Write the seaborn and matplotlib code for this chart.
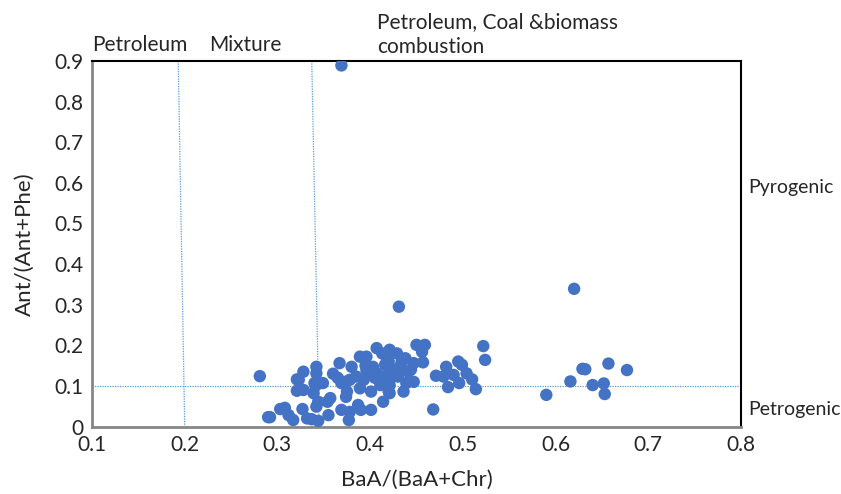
import numpy as np
import pandas as pd
import matplotlib
matplotlib.use("Agg")
import matplotlib.pyplot as plt
import seaborn as sns

# BaA/(BaA+Chr) vs Ant/(Ant+Phe)
baa_ratio = [
    0.369, 0.431, 0.620, 0.281, 0.522, 0.524, 0.468, 0.590, 0.616, 0.629,
    0.632, 0.640, 0.652, 0.653, 0.657, 0.677, 0.450, 0.459, 0.456, 0.457,
    0.471, 0.482, 0.484, 0.495, 0.499, 0.496, 0.504, 0.510, 0.514, 0.490,
    0.479, 0.447, 0.436, 0.439, 0.421, 0.421, 0.429, 0.438, 0.432, 0.425,
    0.441, 0.447, 0.430, 0.421, 0.292, 0.303, 0.308, 0.312, 0.317, 0.327,
    0.332, 0.337, 0.344, 0.342, 0.344, 0.355, 0.354, 0.357, 0.369, 0.377,
    0.378, 0.374, 0.387, 0.390, 0.401, 0.414, 0.321, 0.328, 0.321, 0.328,
    0.342, 0.342, 0.340, 0.349, 0.339, 0.367, 0.380, 0.389, 0.396, 0.407,
    0.413, 0.420, 0.369, 0.378, 0.385, 0.393, 0.400, 0.407, 0.396, 0.401,
    0.420, 0.375, 0.389, 0.411, 0.421, 0.414, 0.421, 0.403, 0.416, 0.323,
    0.290, 0.341, 0.360, 0.365, 0.372, 0.395, 0.405, 0.418, 0.434, 0.444,
]
ant_ratio = [
    0.889, 0.295, 0.339, 0.124, 0.198, 0.164, 0.042, 0.078, 0.111, 0.142,
    0.141, 0.102, 0.106, 0.080, 0.155, 0.139, 0.201, 0.201, 0.184, 0.158,
    0.125, 0.147, 0.097, 0.160, 0.152, 0.107, 0.131, 0.116, 0.092, 0.127,
    0.123, 0.110, 0.086, 0.107, 0.082, 0.102, 0.180, 0.168, 0.147, 0.139,
    0.135, 0.156, 0.123, 0.189, 0.023, 0.043, 0.046, 0.028, 0.016, 0.043,
    0.020, 0.018, 0.014, 0.049, 0.061, 0.028, 0.061, 0.070, 0.041, 0.016,
    0.036, 0.073, 0.053, 0.041, 0.041, 0.061, 0.088, 0.090, 0.116, 0.135,
    0.147, 0.131, 0.107, 0.107, 0.082, 0.156, 0.147, 0.172, 0.172, 0.193,
    0.180, 0.160, 0.107, 0.115, 0.123, 0.115, 0.131, 0.131, 0.139, 0.086,
    0.086, 0.086, 0.094, 0.102, 0.115, 0.123, 0.139, 0.147, 0.152, 0.115,
    0.023, 0.100, 0.130, 0.120, 0.110, 0.150, 0.120, 0.170, 0.160, 0.140,
]

x_ticks = [0.1, 0.2, 0.3, 0.4, 0.5, 0.6, 0.7, 0.8]
y_ticks = [0, 0.1, 0.2, 0.3, 0.4, 0.5, 0.6, 0.7, 0.8, 0.9]
x_tick_labels = ["0.1", "0.2", "0.3", "0.4", "0.5", "0.6", "0.7", "0.8"]
y_tick_labels = ["0", "0.1", "0.2", "0.3", "0.4", "0.5", "0.6", "0.7", "0.8", "0.9"]

# source boundaries (dotted guide lines)
petroleum_line_x = [0.193, 0.200]
mixture_line_x = [0.337, 0.345]
pyro_petro_y = 0.1

df = pd.DataFrame({"baa": baa_ratio, "ant": ant_ratio})

sns.set_style("white")
plt.rcParams["font.family"] = ["Lato", "DejaVu Sans"]

fig = plt.figure(figsize=(8.41, 4.94), dpi=100)
ax = fig.add_axes([0.1094, 0.1366, 0.7717, 0.74])

sns.scatterplot(data=df, x="baa", y="ant", ax=ax, color="#4472C4",
                s=80, edgecolor="none", linewidth=0, zorder=3)

# dotted guide lines
ax.plot(petroleum_line_x, [0.9, 0], color="#5B9BD5", lw=0.9, ls=(0, (1, 1)), zorder=2)
ax.plot(mixture_line_x, [0.9, 0], color="#5B9BD5", lw=0.9, ls=(0, (1, 1)), zorder=2)
ax.axhline(pyro_petro_y, color="#5B9BD5", lw=0.9, ls=(0, (1, 1)), zorder=2)

ax.set_xlim(0.1, 0.8)
ax.set_ylim(0, 0.9)
ax.set_xticks(x_ticks)
ax.set_xticklabels(x_tick_labels, fontsize=15)
ax.set_yticks(y_ticks)
ax.set_yticklabels(y_tick_labels, fontsize=15)
ax.tick_params(direction="in", length=5, width=1, color="#868686", pad=6)

ax.set_xlabel("BaA/(BaA+Chr)", fontsize=16, labelpad=11)
ax.set_ylabel("Ant/(Ant+Phe)", fontsize=16, labelpad=14)

for side in ["left", "bottom"]:
    ax.spines[side].set_color("#868686")
    ax.spines[side].set_linewidth(2)
for side in ["top", "right"]:
    ax.spines[side].set_color("black")
    ax.spines[side].set_linewidth(1.5)

# region annotations
ax.text(0.1, 0.915, "Petroleum", fontsize=15, ha="left", va="bottom")
ax.text(0.226, 0.915, "Mixture", fontsize=15, ha="left", va="bottom")
ax.text(0.407, 0.91, "Petroleum, Coal &biomass\ncombustion", fontsize=15,
        ha="left", va="bottom", linespacing=1.3)
ax.text(0.808, 0.588, "Pyrogenic", fontsize=14, ha="left", va="center")
ax.text(0.808, 0.041, "Petrogenic", fontsize=14, ha="left", va="center")

fig.savefig("out.png", dpi=100)
